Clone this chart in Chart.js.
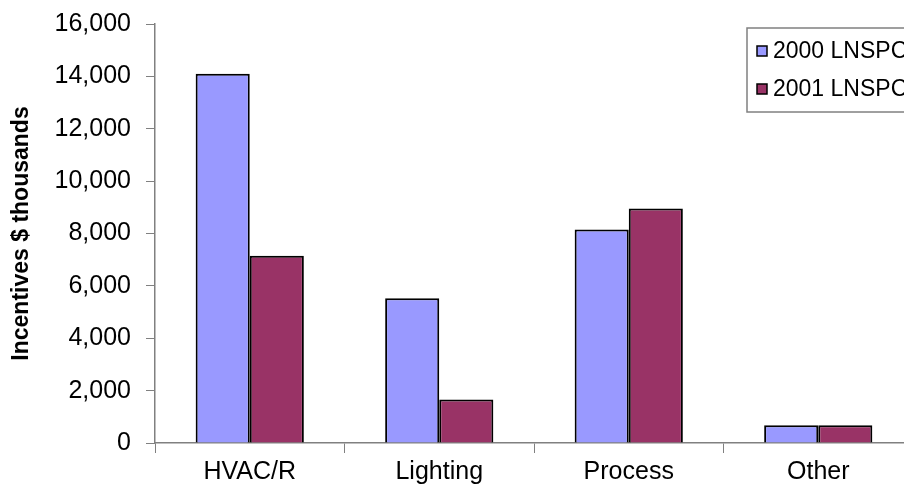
<!DOCTYPE html>
<html>
<head>
<meta charset="utf-8">
<script src="https://cdn.jsdelivr.net/npm/chart.js@4"></script>
<style>
  html, body { margin: 0; padding: 0; background: #fff; overflow: hidden; }
  #wrap { width: 922px; height: 499px; margin-top: -6px; }
</style>
</head>
<body>
<div id="wrap"><canvas id="chart"></canvas></div>
<script>
// --- Data ---
const categories = ['HVAC/R', 'Lighting', 'Process', 'Other'];
const seriesNames = ['2000 LNSPC', '2001 LNSPC'];
const values2000 = [14100, 5530, 8150, 680];
const values2001 = [7150, 1660, 8950, 680];
const yTicks = [0, 2000, 4000, 6000, 8000, 10000, 12000, 14000, 16000];

const colors = ['#9999FF', '#993366'];
const font = 'Liberation Sans, Arial, sans-serif';

// --- Legend box that sits over the plot, like the original ---
const boxLegend = {
    id: 'boxLegend',
    afterDraw(chart) {
        const c = chart.ctx;
        c.save();
        c.strokeStyle = '#808080';
        c.lineWidth = 1.5;
        c.fillStyle = '#fff';
        c.fillRect(747, 34, 200, 84);
        c.strokeRect(747, 34, 200, 84);
        chart.data.datasets.forEach((ds, i) => {
            const y = 57 + i * 38;
            c.fillStyle = ds.backgroundColor;
            c.fillRect(757, y - 5, 10, 10);
            c.strokeStyle = '#000';
            c.lineWidth = 1.5;
            c.strokeRect(757, y - 5, 10, 10);
            c.fillStyle = '#000';
            c.font = '23px ' + font;
            c.textBaseline = 'middle';
            c.fillText(ds.label, 773, y + 1);
        });
        c.restore();
    }
};

const ctx = document.getElementById('chart').getContext('2d');
new Chart(ctx, {
    type: 'bar',
    data: {
        labels: categories,
        datasets: [
            { label: seriesNames[0], data: values2000, backgroundColor: colors[0], borderColor: '#000', borderWidth: 2 },
            { label: seriesNames[1], data: values2001, backgroundColor: colors[1], borderColor: '#000', borderWidth: 2 }
        ]
    },
    options: {
        responsive: true,
        maintainAspectRatio: false,
        animation: false,
        layout: { padding: { top: 4, right: 9, bottom: 2, left: 8 } },
        datasets: { bar: { categoryPercentage: 0.571, barPercentage: 1.0 } },
        plugins: {
            legend: { display: false },
            tooltip: { enabled: false }
        },
        scales: {
            x: {
                grid: { offset: true, drawOnChartArea: false, color: '#808080', tickLength: 10, tickColor: '#808080' },
                border: { color: '#808080', width: 1.5 },
                ticks: { color: '#000', font: { family: font, size: 25 }, padding: 4, maxRotation: 0 }
            },
            y: {
                min: 0,
                max: 16000,
                afterBuildTicks: (axis) => { axis.ticks = yTicks.map(v => ({ value: v })); },
                afterFit: (axis) => { axis.width = 147; },
                grid: { drawOnChartArea: false, tickLength: 9, tickColor: '#808080' },
                border: { color: '#808080', width: 1.5 },
                ticks: {
                    color: '#000',
                    font: { family: font, size: 25 },
                    padding: 15,
                    callback: (v) => v.toLocaleString('en-US')
                },
                title: {
                    display: true,
                    text: 'Incentives $ thousands',
                    color: '#000',
                    font: { family: font, size: 23, weight: 'bold' },
                    padding: 0
                }
            }
        }
    },
    plugins: [boxLegend]
});
</script>
</body>
</html>
